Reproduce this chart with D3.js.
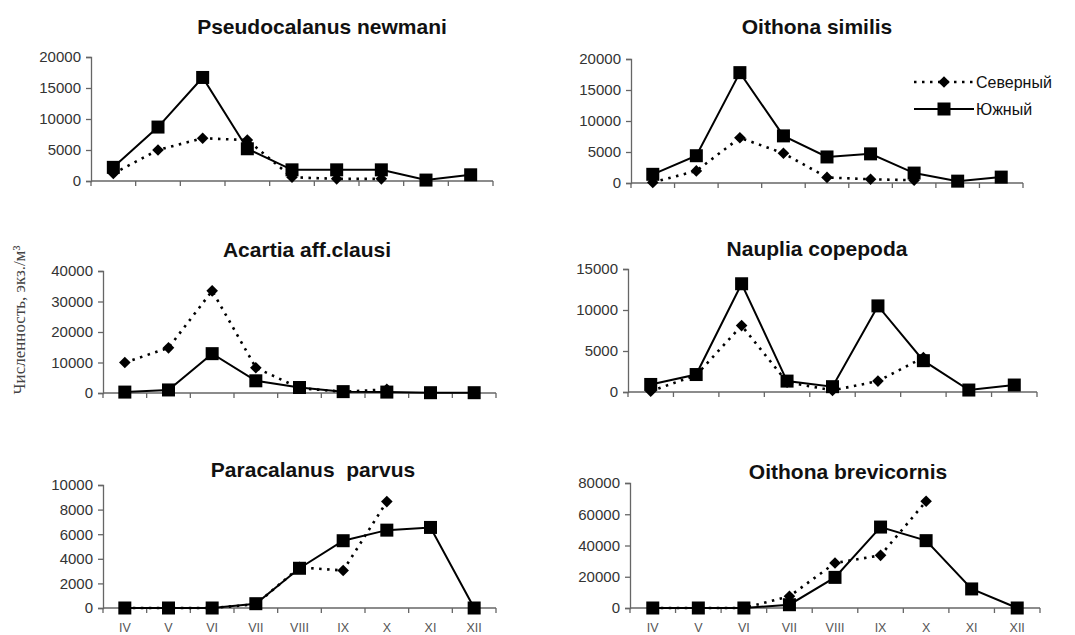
<!DOCTYPE html>
<html><head><meta charset="utf-8">
<script src="https://cdn.jsdelivr.net/npm/d3@7"></script>
<style>
html,body{margin:0;padding:0;background:#fff;}
svg{display:block;}
</style></head>
<body>
<svg id="c" width="1075" height="635"></svg>
<script>
// ---- data ----
const months = ["IV","V","VI","VII","VIII","IX","X","XI","XII"];
const seriesNames = ["Северный","Южный"];
const yLabel = "Численность, экз./м³";

const titles = ["Pseudocalanus newmani","Oithona similis","Acartia aff.clausi","Nauplia copepoda","Paracalanus  parvus","Oithona brevicornis"];
const yMax = [20000, 20000, 40000, 15000, 10000, 80000];
const yStep = [5000, 5000, 10000, 5000, 2000, 20000];

// Северный (north, dotted, diamonds)
const northP1 = [1200, 5000, 6900, 6600, 600, 350, 350, null, null];
const northP2 = [100, 1950, 7300, 4800, 900, 600, 450, null, null];
const northP3 = [10000, 14800, 33500, 8300, 1600, 400, 1200, null, null];
const northP4 = [100, 2050, 8100, 1200, 200, 1330, 4200, null, null];
const northP5 = [0, 0, 0, 300, 3300, 3050, 8650, null, null];
const northP6 = [0, 0, 0, 7500, 28800, 33700, 68300, null, null];
// Южный (south, solid, squares)
const southP1 = [2200, 8700, 16700, 5200, 1800, 1800, 1800, 150, 1000];
const southP2 = [1400, 4400, 17800, 7600, 4200, 4700, 1600, 300, 950];
const southP3 = [300, 1000, 12900, 4000, 1800, 450, 300, 100, 100];
const southP4 = [920, 2130, 13200, 1330, 650, 10500, 3820, 240, 850];
const southP5 = [0, 0, 0, 350, 3230, 5470, 6330, 6550, 0];
const southP6 = [0, 0, 0, 2100, 19600, 51800, 43100, 12200, 0];

const north = [northP1, northP2, northP3, northP4, northP5, northP6];
const south = [southP1, southP2, southP3, southP4, southP5, southP6];

// ---- layout ----
const layout = [
  {l:91,  r:493,  t:57,  b:181, tx:322, ty:34, xl:false},
  {l:631, r:1023, t:59,  b:183, tx:817, ty:34, xl:false},
  {l:103, r:496,  t:271, b:393, tx:307, ty:257, xl:false},
  {l:628, r:1037, t:269, b:392, tx:817, ty:256, xl:false},
  {l:103, r:496,  t:485, b:608, tx:313, ty:477, xl:true},
  {l:630, r:1040, t:483, b:608, tx:848, ty:479, xl:true}
];

const svg = d3.select("#c");
const axisColor = "#666";
const labelColor = "#333";
const font = "Liberation Sans, Arial, sans-serif";

const diamondPath = "M0,-5.8L5.8,0L0,5.8L-5.8,0Z";

layout.forEach((L, i) => {
  const g = svg.append("g");
  const x = d3.scaleBand().domain(months).range([L.l, L.r]).paddingInner(0).paddingOuter(0);
  const y = d3.scaleLinear().domain([0, yMax[i]]).range([L.b, L.t]);
  const cx = m => x(m) + x.bandwidth()/2;

  // title
  g.append("text").attr("x", L.tx).attr("y", L.ty).attr("text-anchor","middle")
    .attr("font-family",font).attr("font-weight","bold")
    .attr("font-size",21).attr("fill","#111").style("white-space","pre").text(titles[i]);

  // y axis
  const yt = d3.range(0, yMax[i] + 1, yStep[i]);
  const ya = g.append("g").attr("transform",`translate(${L.l},0)`)
    .call(d3.axisLeft(y).tickValues(yt).tickSize(5).tickPadding(5).tickFormat(d3.format("d")));
  ya.select(".domain").attr("stroke",axisColor).attr("stroke-width",1.3);
  ya.selectAll(".tick line").attr("stroke",axisColor).attr("stroke-width",1.3);
  ya.selectAll(".tick text").attr("font-family",font)
    .attr("font-size",15).attr("fill",labelColor);

  // x axis line with boundary ticks
  g.append("line").attr("x1",L.l).attr("x2",L.r).attr("y1",L.b).attr("y2",L.b)
    .attr("stroke",axisColor).attr("stroke-width",1.3);
  const bounds = months.map(m => x(m)).concat([L.r]);
  g.selectAll(".xt").data(bounds).enter().append("line")
    .attr("x1",d=>d).attr("x2",d=>d).attr("y1",L.b).attr("y2",L.b+5)
    .attr("stroke",axisColor).attr("stroke-width",1.3);
  if (L.xl) {
    g.selectAll(".xlab").data(months).enter().append("text")
      .attr("x",d=>cx(d)).attr("y",632).attr("text-anchor","middle")
      .attr("font-family",font).attr("font-size",12.5)
      .attr("fill","#555").text(d=>d);
  }

  // north (dotted)
  const nd = months.map((m,k)=>({m, v:north[i][k]})).filter(d=>d.v!==null);
  const line = d3.line().x(d=>cx(d.m)).y(d=>y(d.v));
  g.append("path").datum(nd).attr("d",line).attr("fill","none").attr("stroke","#000")
    .attr("stroke-width",2.6).attr("stroke-dasharray","2.5,5.5").attr("stroke-linecap","butt");
  g.selectAll(".nd").data(nd).enter().append("path")
    .attr("d",diamondPath).attr("transform",d=>`translate(${cx(d.m)},${y(d.v)})`).attr("fill","#000");

  // south (solid)
  const sd = months.map((m,k)=>({m, v:south[i][k]})).filter(d=>d.v!==null);
  g.append("path").datum(sd).attr("d",line).attr("fill","none").attr("stroke","#000")
    .attr("stroke-width",2);
  g.selectAll(".sq").data(sd).enter().append("rect")
    .attr("x",d=>cx(d.m)-6.5).attr("y",d=>y(d.v)-6.5).attr("width",13).attr("height",13)
    .attr("fill","#000");
});

// legend (in panel 2)
const lg = svg.append("g");
const legendItems = [
  {name: seriesNames[0], y: 82, dotted:true},
  {name: seriesNames[1], y: 109, dotted:false}
];
legendItems.forEach(it => {
  lg.append("line").attr("x1",914).attr("x2",974).attr("y1",it.y).attr("y2",it.y)
    .attr("stroke","#000").attr("stroke-width",it.dotted?2.6:2)
    .attr("stroke-dasharray",it.dotted?"2.5,5.5":null);
  if (it.dotted) {
    lg.append("path").attr("d",diamondPath).attr("transform",`translate(944,${it.y})`).attr("fill","#000");
  } else {
    lg.append("rect").attr("x",944-6.5).attr("y",it.y-6.5).attr("width",13).attr("height",13).attr("fill","#000");
  }
  lg.append("text").attr("x",976).attr("y",it.y+5.5)
    .attr("font-family",font).attr("font-size",16)
    .attr("fill","#111").text(it.name);
});

// y axis title
svg.append("text").attr("transform","translate(25,320) rotate(-90)")
  .attr("text-anchor","middle").attr("font-family","Liberation Serif, Times New Roman, serif")
  .attr("font-size",17).attr("fill","#444").text(yLabel);
</script>
</body></html>
